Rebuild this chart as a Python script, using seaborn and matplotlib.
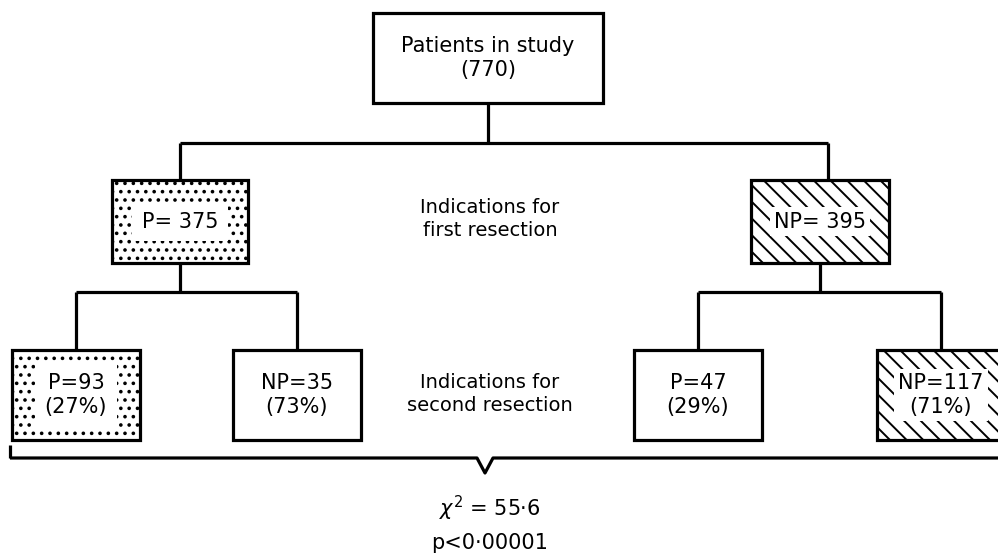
import matplotlib
matplotlib.use("Agg")
import matplotlib.pyplot as plt
import seaborn as sns
from matplotlib.patches import Rectangle

sns.set_style("white")
plt.rcParams['font.family'] = ['DejaVu Sans']
plt.rcParams['hatch.linewidth'] = 1.4
plt.rcParams['text.color'] = 'black'

# data
total = 770
first_labels = ['P', 'NP']
first_counts = [375, 395]
second_labels = ['P', 'NP', 'P', 'NP']
second_counts = [93, 35, 47, 117]
second_pct = [27, 73, 29, 71]
chi2 = '55·6'
p_value = '0·00001'
notes = ['Indications for\nfirst resection', 'Indications for\nsecond resection']

# layout (pixel-like coords, y downwards)
LW = 2.3
top_box = (373, 13, 230, 90)
first_x = [112, 751]
first_w = [136, 138]
first_y, first_h = 180, 83
first_in = [180, 828]      # where the line enters from above
second_x = [12, 233, 634, 877]
second_w = 128
second_y, second_h = 350, 90
hatches = {'P': '..', 'NP': '\\\\'}

fig = plt.figure(figsize=(9.98, 5.6), dpi=100)
ax = fig.add_axes([0, 0, 1, 1])
ax.set_xlim(0, 998)
ax.set_ylim(560, 0)
ax.axis('off')


def box(x, y, w, h, hatch=None):
    ax.add_patch(Rectangle((x, y), w, h, fc='white', ec='black', lw=LW,
                           hatch=hatch, zorder=2))


def line(xs, ys):
    ax.plot(xs, ys, color='black', lw=LW, solid_capstyle='butt', zorder=1)


txt = dict(ha='center', va='center', fontsize=15, zorder=4, linespacing=1.25)
clear = {'P': dict(fc='white', ec='none', pad=7),
         'NP': dict(fc='white', ec='none', pad=3)}

# top box
x, y, w, h = top_box
box(x, y, w, h)
ax.text(x + w / 2, y + h / 2, f'Patients in study\n({total})', **txt)

# first split
mid = x + w / 2
line([mid, mid], [y + h, 143])
line([first_in[0], first_in[1]], [143, 143])
for i, (lab, n) in enumerate(zip(first_labels, first_counts)):
    line([first_in[i], first_in[i]], [143, first_y])
    box(first_x[i], first_y, first_w[i], first_h, hatches[lab])
    ax.text(first_x[i] + first_w[i] / 2, first_y + first_h / 2, f'{lab}= {n}',
            bbox=clear[lab], **txt)
ax.text(490, 219, notes[0], ha='center', va='center', fontsize=14, linespacing=1.3)

# second split
for i in range(2):
    cx = first_x[i] + first_w[i] / 2
    line([cx, cx], [first_y + first_h, 292])
    kids = [second_x[2 * i] + second_w / 2, second_x[2 * i + 1] + second_w / 2]
    line(kids, [292, 292])
for j, (lab, n, pc) in enumerate(zip(second_labels, second_counts, second_pct)):
    cx = second_x[j] + second_w / 2
    line([cx, cx], [292, second_y])
    shaded = j in (0, 3)
    box(second_x[j], second_y, second_w, second_h,
        hatches[lab] if shaded else None)
    ax.text(cx, second_y + second_h / 2, f'{lab}={n}\n({pc}%)',
            bbox=clear[lab] if shaded else None, **txt)
ax.text(490, 394, notes[1], ha='center', va='center', fontsize=14, linespacing=1.3)

# bracket
line([10, 10], [445, 458])
line([10, 477, 485, 493, 998], [458, 458, 473, 458, 458])
ax.text(490, 508, rf'$\chi^2$ = {chi2}', ha='center', va='center', fontsize=15)
ax.text(490, 543, f'p<{p_value}', ha='center', va='center', fontsize=15)

fig.savefig('out.png', dpi=100, facecolor='white')
